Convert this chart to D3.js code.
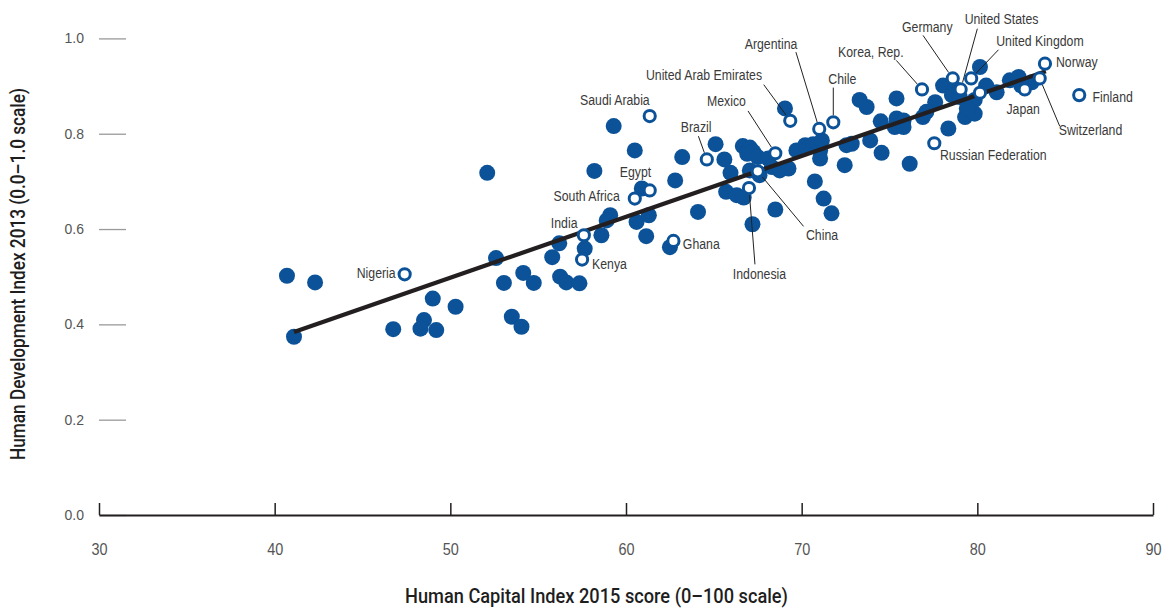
<!DOCTYPE html>
<html>
<head>
<meta charset="utf-8">
<script src="https://cdn.jsdelivr.net/npm/d3@7"></script>
<style>
  html, body { margin: 0; padding: 0; background: #fff; }
  svg { display: block; }
</style>
</head>
<body>
<svg id="chart" width="1168" height="608"></svg>
<script>
// ---------- DATA ----------
const xTicks = [30, 40, 50, 60, 70, 80, 90];
const yTicks = [0.0, 0.2, 0.4, 0.6, 0.8, 1.0];

// Unlabelled economies (filled dots)
const otherHCI = [40.7, 42.3, 41.1, 46.75, 49.0, 50.3, 48.5, 48.3, 49.2, 52.1,
  52.6, 53.05, 54.15, 54.75, 53.5, 54.05, 55.8, 56.2, 56.25, 56.6,
  57.35, 57.65, 58.2, 59.3, 58.6, 59.1, 58.9, 60.5, 60.9, 60.6,
  61.3, 61.15, 62.5, 62.8, 63.2, 64.1, 65.1, 65.6, 65.95, 65.7,
  66.3, 66.7, 66.65, 67.05, 66.9, 67.25, 67.5, 68.1, 67.05, 67.6,
  67.2, 68.3, 68.75, 69.25, 68.5, 69.05, 69.7, 70.2, 70.65, 71.05,
  71.05, 71.15, 70.75, 71.25, 71.7, 72.45, 72.85, 73.3, 73.7, 73.9,
  74.5, 74.55, 75.4, 75.4, 75.8, 75.3, 75.8, 76.15, 77.6, 77.1,
  76.9, 78.35, 78.05, 78.7, 78.55, 80.15, 80.5, 81.1, 79.85, 79.3,
  79.85, 79.4, 79.0, 81.85, 82.35, 83.1, 82.5, 72.55];
const otherHDI = [0.502, 0.488, 0.374, 0.390, 0.454, 0.437, 0.409, 0.391, 0.388, 0.718,
  0.539, 0.487, 0.508, 0.487, 0.416, 0.395, 0.541, 0.570, 0.500, 0.488,
  0.486, 0.559, 0.722, 0.816, 0.587, 0.629, 0.618, 0.765, 0.685, 0.615,
  0.629, 0.585, 0.562, 0.702, 0.751, 0.636, 0.778, 0.746, 0.718, 0.678,
  0.671, 0.666, 0.774, 0.771, 0.758, 0.762, 0.751, 0.748, 0.723, 0.713,
  0.610, 0.730, 0.723, 0.727, 0.641, 0.853, 0.765, 0.776, 0.778, 0.765,
  0.748, 0.786, 0.700, 0.664, 0.633, 0.734, 0.779, 0.871, 0.856, 0.786,
  0.826, 0.760, 0.874, 0.832, 0.828, 0.814, 0.814, 0.737, 0.866, 0.846,
  0.835, 0.811, 0.901, 0.895, 0.881, 0.940, 0.901, 0.887, 0.871, 0.835,
  0.842, 0.853, 0.877, 0.912, 0.919, 0.908, 0.901, 0.776];

// Highlighted economies (open circles)
const countries = ["Nigeria", "India", "Kenya", "South Africa", "Egypt", "Ghana",
  "Saudi Arabia", "Brazil", "Mexico", "United Arab Emirates", "Argentina", "Chile",
  "Indonesia", "China", "Korea, Rep.", "Russian Federation", "Germany", "United States",
  "United Kingdom", "Norway", "Finland", "Japan", "Switzerland", ""];
const countryHCI = [47.4, 57.6, 57.5, 60.5, 61.35, 62.7,
  61.35, 64.6, 68.5, 69.35, 71.0, 71.8,
  67.0, 67.5, 76.85, 77.55, 78.6, 79.05,
  79.65, 83.85, 85.8, 82.7, 83.55, 80.15];
const countryHDI = [0.505, 0.587, 0.536, 0.664, 0.681, 0.575,
  0.837, 0.746, 0.759, 0.827, 0.810, 0.824,
  0.686, 0.721, 0.893, 0.780, 0.916, 0.893,
  0.916, 0.947, 0.881, 0.893, 0.916, 0.886];

// Fitted trend line (endpoints)
const trendHCI = [41.1, 83.9];
const trendHDI = [0.384, 0.931];

const xTitle = "Human Capital Index 2015 score (0\u2013100 scale)";
const yTitle = "Human Development Index 2013 (0.0\u20131.0 scale)";

// ---------- LAYOUT (label placement, px offsets from the point) ----------
const labelLayout = {
  "Nigeria":              {dx: -9,    dy: 4,     anchor: "end"},
  "India":                {dx: -33,   dy: -7.7,  anchor: "start"},
  "Kenya":                {dx: 10,    dy: 9,     anchor: "start"},
  "South Africa":         {dx: -15,   dy: 2.4,   anchor: "end"},
  "Egypt":                {dx: -30,   dy: -13.3, anchor: "start"},
  "Ghana":                {dx: 9.4,   dy: 8.3,   anchor: "start"},
  "Saudi Arabia":         {dx: 0,     dy: -10.7, anchor: "end"},
  "Brazil":               {dx: -26,   dy: -27.6, anchor: "start", lx: -8.4,  ly: -23.3},
  "Mexico":               {dx: -68.3, dy: -47.3, anchor: "start", lx: -27.3, ly: -42.3},
  "United Arab Emirates": {dx: -28.2, dy: -40.5, anchor: "end",   lx: -26.5, ly: -36.2},
  "Argentina":            {dx: -48.2, dy: -79.5, anchor: "middle",lx: -23.3, ly: -76.8},
  "Chile":                {dx: -5,    dy: -38.7, anchor: "start", lx: 0,     ly: -34.7},
  "Indonesia":            {dx: 10.5,  dy: 90.6,  anchor: "middle",lx: 6,     ly: 76.3},
  "China":                {dx: 48.2,  dy: 68.3,  anchor: "start", lx: 45.8,  ly: 55},
  "Korea, Rep.":          {dx: -18.4, dy: -32.3, anchor: "end",   lx: -25.7, ly: -29},
  "Russian Federation":   {dx: 5.7,   dy: 16.3,  anchor: "start"},
  "Germany":              {dx: -50.7, dy: -46.3, anchor: "start", lx: -29.7, ly: -43},
  "United States":        {dx: 4,     dy: -65,   anchor: "start", lx: 16.7,  ly: -60.7},
  "United Kingdom":       {dx: 25,    dy: -32,   anchor: "start", lx: 27.3,  ly: -28.7},
  "Norway":               {dx: 11,    dy: 3.4,   anchor: "start"},
  "Finland":              {dx: 13.3,  dy: 7.3,   anchor: "start"},
  "Japan":                {dx: -18.3, dy: 24.3,  anchor: "start"},
  "Switzerland":          {dx: 19,    dy: 56.7,  anchor: "start", lx: 20,    ly: 47.7}
};

// ---------- DRAW ----------
const BLUE = "#0b5298";
const INK = "#231f20";
const SANS = "'Liberation Sans', Arial, Helvetica, sans-serif";
const COND = 0.82; // horizontal condensing of the label face

const svg = d3.select("#chart");
const x = d3.scaleLinear().domain([30, 90]).range([99, 1153]);
const y = d3.scaleLinear().domain([0, 1]).range([515, 38.4]);

// Y axis: short grey tick marks and labels
const yAxis = d3.axisLeft(y).tickValues(yTicks).tickSize(0).tickPadding(15)
  .tickFormat(d3.format(".1f"));
const gy = svg.append("g").attr("transform", `translate(99,0)`).call(yAxis);
gy.select(".domain").remove();
gy.selectAll(".tick text")
  .attr("font-family", SANS)
  .attr("font-size", 14).attr("fill", "#555");
gy.selectAll(".tick").append("line")
  .attr("x1", 0).attr("x2", 27).attr("y1", 0).attr("y2", 0)
  .attr("stroke", "#9a9a9a").attr("stroke-width", 1.3);

// X axis: baseline with upward ticks
const xAxis = d3.axisBottom(x).tickValues(xTicks).tickSize(-12).tickSizeOuter(0)
  .tickPadding(0).tickFormat(d3.format("d"));
const gx = svg.append("g").attr("transform", `translate(0,515)`).call(xAxis);
gx.select(".domain").attr("stroke", INK).attr("stroke-width", 2.2);
gx.selectAll(".tick line").attr("stroke", INK).attr("stroke-width", 1.5);
gx.selectAll(".tick text")
  .attr("y", null).attr("dy", null)
  .attr("transform", "translate(0,40) scale(0.85,1)")
  .attr("font-family", SANS).attr("font-size", 17).attr("fill", "#555");

// Axis titles
svg.append("text")
  .attr("x", 596.5).attr("y", 603).attr("text-anchor", "middle")
  .attr("font-family", "Roboto, " + SANS).attr("font-weight", 500).attr("font-size", 20)
  .attr("textLength", 383).attr("lengthAdjust", "spacingAndGlyphs")
  .attr("fill", "#1e1e1e").text(xTitle);
svg.append("text")
  .attr("transform", "translate(25,274) rotate(-90)").attr("text-anchor", "middle")
  .attr("font-family", "Roboto, " + SANS).attr("font-weight", 500).attr("font-size", 20)
  .attr("textLength", 372).attr("lengthAdjust", "spacingAndGlyphs")
  .attr("fill", "#1e1e1e").text(yTitle);

// Filled dots
const others = otherHCI.map((v, i) => ({x: v, y: otherHDI[i]}));
svg.append("g").selectAll("circle").data(others).join("circle")
  .attr("cx", d => x(d.x)).attr("cy", d => y(d.y)).attr("r", 8)
  .attr("fill", BLUE);

// Trend line
svg.append("line")
  .attr("x1", x(trendHCI[0])).attr("y1", y(trendHDI[0]))
  .attr("x2", x(trendHCI[1])).attr("y2", y(trendHDI[1]))
  .attr("stroke", INK).attr("stroke-width", 4.2);

// Highlighted countries
const hl = countries.map((c, i) => ({name: c, x: countryHCI[i], y: countryHDI[i]}));
const R = 5.6;

// Leader lines
const gLead = svg.append("g");
hl.forEach(d => {
  const L = labelLayout[d.name];
  if (!L || L.lx === undefined) return;
  const px = x(d.x), py = y(d.y);
  const sx = px + L.lx, sy = py + L.ly;
  const len = Math.hypot(px - sx, py - sy);
  const k = (len - (R + 1.5)) / len;
  gLead.append("line")
    .attr("x1", sx).attr("y1", sy)
    .attr("x2", sx + (px - sx) * k).attr("y2", sy + (py - sy) * k)
    .attr("stroke", "#222").attr("stroke-width", 1);
});

// Open circles
svg.append("g").selectAll("circle").data(hl).join("circle")
  .attr("cx", d => x(d.x)).attr("cy", d => y(d.y)).attr("r", R)
  .attr("fill", "#fff").attr("stroke", BLUE).attr("stroke-width", 3);

// Labels
svg.append("g").selectAll("text").data(hl.filter(d => labelLayout[d.name])).join("text")
  .attr("transform", d => {
    const L = labelLayout[d.name];
    return `translate(${x(d.x) + L.dx},${y(d.y) + L.dy}) scale(${COND},1)`;
  })
  .attr("text-anchor", d => labelLayout[d.name].anchor)
  .attr("font-family", SANS).attr("font-size", 15).attr("fill", "#3a3a3a")
  .text(d => d.name);
</script>
</body>
</html>
